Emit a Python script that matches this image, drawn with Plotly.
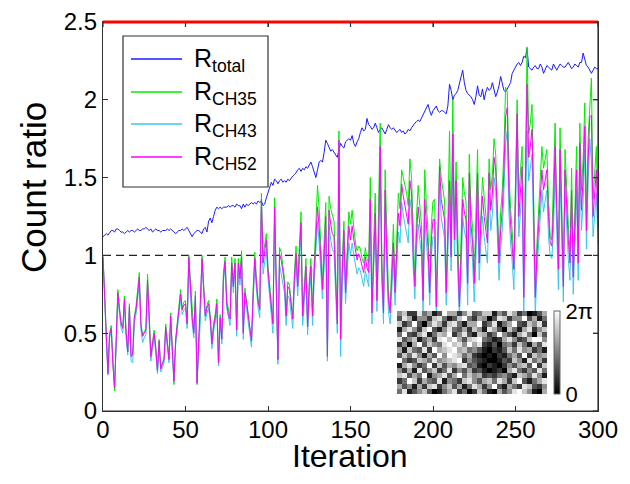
import plotly.graph_objects as go

ITERATION = list(range(0, 301))

R_TOTAL = [
    1.12, 1.13, 1.14, 1.13, 1.15, 1.16, 1.16, 1.15, 1.17, 1.17,
    1.16, 1.15, 1.15, 1.14, 1.15, 1.16, 1.15, 1.16, 1.16, 1.15,
    1.16, 1.17, 1.16, 1.16, 1.17, 1.17, 1.18, 1.17, 1.16, 1.17,
    1.15, 1.16, 1.17, 1.16, 1.16, 1.15, 1.16, 1.16, 1.16, 1.17,
    1.16, 1.17, 1.16, 1.15, 1.14, 1.15, 1.16, 1.16, 1.17, 1.16,
    1.17, 1.18, 1.16, 1.14, 1.12, 1.14, 1.15, 1.16, 1.16, 1.15,
    1.14, 1.17, 1.18, 1.15, 1.22, 1.24, 1.21, 1.25, 1.29, 1.31,
    1.30, 1.31, 1.30, 1.31, 1.31, 1.31, 1.32, 1.31, 1.32, 1.32,
    1.31, 1.33, 1.32, 1.32, 1.30, 1.33, 1.31, 1.33, 1.32, 1.33,
    1.34, 1.33, 1.34, 1.33, 1.35, 1.34, 1.35, 1.32, 1.33, 1.37,
    1.40, 1.43, 1.47, 1.45, 1.49, 1.48, 1.46, 1.48, 1.49, 1.47,
    1.48, 1.47, 1.49, 1.48, 1.50, 1.51, 1.52, 1.53, 1.55, 1.56,
    1.54, 1.56, 1.55, 1.57, 1.56, 1.58, 1.60, 1.57, 1.54, 1.50,
    1.55, 1.60, 1.61, 1.60, 1.66, 1.74, 1.72, 1.70, 1.67, 1.68,
    1.66, 1.65, 1.63, 1.68, 1.72, 1.70, 1.69, 1.73, 1.74, 1.75,
    1.74, 1.77, 1.72, 1.70, 1.73, 1.75, 1.79, 1.82, 1.80, 1.81,
    1.88, 1.84, 1.83, 1.81, 1.82, 1.85, 1.82, 1.79, 1.81, 1.82,
    1.80, 1.78, 1.81, 1.84, 1.82, 1.81, 1.82, 1.80, 1.79, 1.80,
    1.81, 1.79, 1.80, 1.78, 1.79, 1.81, 1.80, 1.82, 1.84, 1.85,
    1.86, 1.87, 1.86, 1.88, 1.90, 1.92, 1.94, 1.97, 1.93, 1.90,
    1.93, 1.95, 1.96, 1.93, 1.92, 1.93, 1.93, 1.92, 1.91, 1.96,
    2.10, 2.06, 2.00, 2.03, 2.04, 2.06, 2.10, 2.15, 2.19, 2.11,
    2.06, 2.04, 2.03, 2.02, 2.00, 1.97, 2.02, 2.09, 2.03, 2.02,
    2.07, 2.00, 2.05, 2.08, 2.06, 2.07, 2.11, 2.06, 2.02, 2.05,
    2.09, 2.15, 2.10, 2.06, 2.05, 2.07, 2.09, 2.11, 2.17, 2.19,
    2.22, 2.23, 2.24, 2.22, 2.24, 2.28, 2.27, 2.33, 2.21, 2.20,
    2.19, 2.21, 2.22, 2.20, 2.20, 2.23, 2.21, 2.17, 2.19, 2.22,
    2.21, 2.20, 2.19, 2.23, 2.21, 2.19, 2.21, 2.23, 2.22, 2.21,
    2.21, 2.23, 2.24, 2.22, 2.20, 2.21, 2.23, 2.22, 2.21, 2.24,
    2.24, 2.30, 2.25, 2.22, 2.21, 2.19, 2.17, 2.19, 2.21, 2.20,
    2.20,
]

R_CH35 = [
    1.00, 0.71, 0.47, 0.25, 0.50, 0.55, 0.31, 0.13, 0.46, 0.78,
    0.66, 0.57, 0.54, 0.74, 0.51, 0.38, 0.69, 0.36, 0.36, 0.61,
    0.67, 0.76, 0.89, 0.56, 0.49, 0.51, 0.53, 0.88, 0.56, 0.36,
    0.44, 0.52, 0.41, 0.26, 0.46, 0.28, 0.31, 0.34, 0.56, 0.46,
    0.34, 0.63, 0.41, 0.17, 0.46, 0.58, 0.70, 0.78, 0.66, 0.70,
    0.71, 0.57, 1.00, 0.82, 0.61, 0.51, 0.77, 0.17, 0.46, 0.63,
    1.00, 0.82, 0.62, 0.68, 0.71, 0.61, 0.44, 0.56, 0.62, 0.72,
    0.30, 0.62, 0.47, 0.89, 0.99, 0.71, 0.64, 0.60, 0.99, 0.83,
    0.98, 0.53, 0.98, 0.88, 1.03, 0.51, 0.79, 0.72, 0.62, 0.53,
    0.46, 0.78, 1.02, 0.85, 0.72, 0.66, 1.40, 1.00, 1.06, 1.14,
    0.93, 0.80, 0.68, 0.57, 1.37, 0.72, 0.33, 1.05, 1.02, 0.93,
    0.85, 0.62, 0.83, 0.81, 0.72, 0.60, 0.89, 1.06, 0.83, 1.04,
    1.28, 0.62, 0.83, 0.98, 0.55, 0.83, 0.98, 0.63, 0.95, 1.20,
    1.45, 1.30, 1.05, 0.82, 1.08, 1.34, 0.36, 1.38, 1.30, 1.25,
    1.22, 0.90, 0.58, 1.80, 0.48, 0.95, 1.22, 0.80, 1.08, 1.28,
    1.20, 1.29, 1.18, 1.08, 1.03, 1.06, 1.04, 0.98, 0.95, 1.05,
    0.98, 0.95, 1.50, 0.66, 1.08, 1.40, 0.75, 1.20, 1.85, 0.98,
    0.66, 1.55, 1.08, 0.75, 0.66, 0.98, 1.20, 0.80, 1.10, 1.40,
    1.30, 1.55, 1.50, 1.45, 1.40, 1.32, 1.62, 1.50, 1.10, 0.84,
    1.25, 1.45, 1.32, 1.20, 0.75, 1.55, 1.32, 1.15, 0.80, 1.20,
    1.35, 1.36, 0.70, 1.20, 1.62, 1.50, 1.42, 1.35, 0.80, 1.20,
    1.80, 1.05, 2.00, 1.20, 1.60, 1.08, 0.70, 1.10, 1.50, 1.40,
    1.35, 0.86, 1.65, 1.30, 1.18, 0.86, 1.22, 1.68, 1.00, 1.30,
    1.50, 1.38, 1.25, 1.15, 1.62, 1.42, 1.52, 1.75, 1.65, 1.30,
    1.00, 1.28, 1.42, 1.68, 2.08, 2.05, 1.55, 1.30, 1.16, 0.95,
    1.52, 2.00, 1.38, 1.52, 1.70, 0.78, 1.55, 2.34, 1.78, 1.85,
    1.97, 1.38, 0.78, 1.08, 1.32, 1.52, 1.70, 1.56, 1.62, 1.68,
    1.36, 1.12, 1.10, 1.42, 1.85, 1.30, 0.96, 1.82, 1.30, 0.84,
    1.68, 1.40, 1.20, 1.00, 1.56, 0.90, 1.32, 1.70, 1.00, 1.85,
    1.42, 1.62, 1.98, 1.26, 1.75, 2.00, 2.14, 1.36, 1.55, 1.70,
    1.25,
]

R_CH43 = [
    0.98, 0.68, 0.44, 0.23, 0.47, 0.51, 0.29, 0.15, 0.43, 0.73,
    0.62, 0.53, 0.50, 0.69, 0.47, 0.36, 0.64, 0.32, 0.31, 0.57,
    0.62, 0.71, 0.82, 0.52, 0.44, 0.47, 0.49, 0.80, 0.52, 0.32,
    0.40, 0.47, 0.37, 0.24, 0.42, 0.25, 0.28, 0.31, 0.51, 0.42,
    0.31, 0.58, 0.37, 0.19, 0.42, 0.53, 0.65, 0.72, 0.62, 0.65,
    0.66, 0.53, 0.97, 0.77, 0.57, 0.47, 0.71, 0.18, 0.42, 0.58,
    0.95, 0.77, 0.58, 0.63, 0.66, 0.57, 0.40, 0.51, 0.57, 0.66,
    0.29, 0.57, 0.43, 0.83, 0.93, 0.66, 0.59, 0.55, 0.91, 0.76,
    0.91, 0.48, 0.91, 0.81, 0.95, 0.46, 0.72, 0.66, 0.57, 0.48,
    0.41, 0.71, 0.94, 0.78, 0.66, 0.60, 1.30, 0.88, 0.96, 1.04,
    0.85, 0.73, 0.62, 0.50, 1.25, 0.65, 0.30, 0.94, 0.88, 0.84,
    0.76, 0.55, 0.74, 0.72, 0.64, 0.53, 0.79, 0.94, 0.74, 0.94,
    1.14, 0.55, 0.74, 0.86, 0.49, 0.74, 0.86, 0.55, 0.84, 1.02,
    1.22, 1.08, 0.88, 0.72, 0.92, 1.16, 0.32, 1.20, 1.10, 1.04,
    1.02, 0.78, 0.50, 1.62, 0.35, 0.82, 1.06, 0.69, 0.92, 1.08,
    1.00, 1.08, 1.00, 0.94, 0.88, 0.92, 0.90, 0.85, 0.80, 0.90,
    0.84, 0.80, 1.24, 0.56, 0.92, 1.15, 0.64, 1.00, 1.58, 0.82,
    0.56, 1.30, 0.92, 0.64, 0.56, 0.82, 0.98, 0.68, 0.92, 1.15,
    1.08, 1.34, 1.26, 1.20, 1.15, 1.08, 1.36, 1.28, 0.92, 0.72,
    1.04, 1.20, 1.10, 1.00, 0.63, 1.24, 1.08, 0.95, 0.68, 1.00,
    1.12, 1.11, 0.60, 1.00, 1.45, 1.24, 1.18, 1.11, 0.68, 1.00,
    1.35, 0.90, 1.62, 1.00, 1.35, 0.90, 0.60, 0.90, 1.24, 1.16,
    1.11, 0.68, 1.40, 1.08, 0.96, 0.70, 0.98, 1.40, 0.84, 1.08,
    1.25, 1.12, 1.03, 0.95, 1.40, 1.16, 1.27, 1.50, 1.42, 1.08,
    0.84, 1.04, 1.17, 1.42, 1.72, 1.80, 1.28, 1.08, 0.96, 0.78,
    1.27, 1.75, 1.12, 1.27, 1.44, 0.62, 1.27, 1.80, 1.48, 1.55,
    1.65, 1.12, 0.62, 0.90, 1.08, 1.27, 1.42, 1.28, 1.36, 1.42,
    1.12, 1.00, 0.98, 1.16, 1.55, 1.08, 0.78, 1.52, 1.08, 0.70,
    1.42, 1.16, 0.98, 0.84, 1.28, 0.75, 1.08, 1.42, 0.84, 1.58,
    1.16, 1.36, 1.68, 1.04, 1.46, 1.75, 1.60, 1.12, 1.26, 1.40,
    1.07,
]

R_CH52 = [
    0.99, 0.70, 0.46, 0.24, 0.49, 0.53, 0.30, 0.15, 0.45, 0.76,
    0.65, 0.56, 0.53, 0.72, 0.50, 0.38, 0.67, 0.35, 0.36, 0.60,
    0.65, 0.74, 0.86, 0.55, 0.48, 0.50, 0.52, 0.84, 0.55, 0.35,
    0.43, 0.50, 0.40, 0.26, 0.45, 0.27, 0.30, 0.33, 0.54, 0.45,
    0.33, 0.61, 0.40, 0.19, 0.45, 0.56, 0.68, 0.75, 0.65, 0.68,
    0.69, 0.56, 0.99, 0.80, 0.60, 0.50, 0.74, 0.18, 0.45, 0.61,
    0.98, 0.80, 0.61, 0.66, 0.69, 0.60, 0.43, 0.54, 0.60, 0.69,
    0.31, 0.60, 0.46, 0.86, 0.96, 0.69, 0.62, 0.59, 0.95, 0.80,
    0.95, 0.52, 0.95, 0.85, 0.99, 0.50, 0.76, 0.70, 0.61, 0.52,
    0.45, 0.75, 0.98, 0.82, 0.70, 0.65, 1.36, 0.95, 1.02, 1.10,
    0.90, 0.78, 0.67, 0.56, 1.31, 0.70, 0.33, 1.01, 0.97, 0.90,
    0.82, 0.61, 0.80, 0.78, 0.70, 0.59, 0.85, 1.01, 0.80, 1.00,
    1.21, 0.61, 0.80, 0.93, 0.54, 0.80, 0.93, 0.61, 0.90, 1.10,
    1.31, 1.18, 0.95, 0.78, 1.00, 1.25, 0.35, 1.29, 1.20, 1.14,
    1.12, 0.85, 0.56, 1.74, 0.46, 0.90, 1.16, 0.76, 1.00, 1.19,
    1.10, 1.19, 1.10, 1.02, 0.97, 1.01, 0.98, 0.93, 0.89, 0.99,
    0.92, 0.89, 1.36, 0.63, 1.00, 1.27, 0.71, 1.10, 1.70, 0.90,
    0.63, 1.42, 1.00, 0.71, 0.63, 0.90, 1.08, 0.76, 1.00, 1.27,
    1.19, 1.46, 1.38, 1.31, 1.27, 1.20, 1.48, 1.40, 1.00, 0.80,
    1.14, 1.31, 1.20, 1.10, 0.71, 1.36, 1.20, 1.05, 0.76, 1.10,
    1.23, 1.23, 0.67, 1.10, 1.57, 1.36, 1.30, 1.23, 0.76, 1.10,
    1.48, 0.99, 1.78, 1.10, 1.48, 1.00, 0.67, 1.00, 1.36, 1.28,
    1.23, 0.82, 1.53, 1.20, 1.08, 0.82, 1.10, 1.53, 0.95, 1.20,
    1.38, 1.25, 1.15, 1.08, 1.53, 1.29, 1.40, 1.63, 1.55, 1.20,
    0.95, 1.16, 1.30, 1.55, 1.89, 1.95, 1.42, 1.20, 1.08, 0.91,
    1.40, 1.91, 1.25, 1.40, 1.57, 0.73, 1.40, 2.10, 1.63, 1.70,
    1.81, 1.25, 0.73, 1.00, 1.21, 1.40, 1.55, 1.42, 1.50, 1.55,
    1.25, 1.08, 1.06, 1.30, 1.70, 1.20, 0.91, 1.68, 1.20, 0.80,
    1.55, 1.29, 1.10, 0.95, 1.42, 0.86, 1.20, 1.55, 0.95, 1.72,
    1.29, 1.50, 1.83, 1.16, 1.60, 1.89, 1.90, 1.25, 1.40, 1.55,
    1.16,
]

SERIES_NAMES = ["R<sub>total</sub>", "R<sub>CH35</sub>", "R<sub>CH43</sub>", "R<sub>CH52</sub>"]
SERIES_COLORS = ["#1a1aff", "#00ee00", "#38c8f0", "#ff00ff"]

REF_LEVEL = 1.0

X_RANGE = [0, 300]
Y_RANGE = [0, 2.5]
X_TICKS = [0, 50, 100, 150, 200, 250, 300]
Y_TICKS = [0, 0.5, 1, 1.5, 2, 2.5]
Y_TICK_TEXT = ["0", "0.5", "1", "1.5", "2", "2.5"]
X_TITLE = "Iteration"
Y_TITLE = "Count ratio"

# inset: phase mask (grey levels 0..9 -> 0..2pi), rows top to bottom
PHASE_LEVELS = [
    [5, 7, 2, 2, 8, 4, 6, 1, 3, 9, 6, 6, 2, 5, 8, 3, 4, 7, 7, 1, 5, 3, 8, 6, 2, 4, 0, 1, 3, 6],
    [3, 8, 6, 1, 5, 5, 2, 7, 8, 4, 1, 3, 7, 9, 4, 2, 6, 5, 0, 3, 8, 7, 2, 5, 5, 9, 3, 6, 1, 4],
    [7, 2, 4, 9, 3, 0, 5, 8, 6, 2, 7, 8, 4, 1, 6, 6, 9, 2, 4, 8, 1, 4, 6, 9, 3, 2, 7, 5, 8, 2],
    [1, 6, 8, 5, 2, 7, 9, 3, 1, 5, 8, 4, 3, 6, 2, 7, 5, 1, 8, 6, 3, 0, 7, 4, 1, 6, 8, 2, 5, 7],
    [4, 9, 3, 2, 6, 8, 1, 4, 7, 6, 9, 2, 5, 8, 3, 1, 7, 6, 2, 4, 9, 5, 3, 1, 6, 8, 4, 0, 7, 3],
    [8, 3, 5, 7, 1, 4, 6, 2, 8, 9, 7, 9, 6, 3, 7, 8, 9, 4, 3, 1, 2, 6, 8, 5, 2, 3, 7, 9, 9, 5],
    [2, 5, 0, 6, 9, 3, 7, 5, 4, 8, 9, 7, 8, 5, 9, 6, 8, 2, 1, 3, 0, 4, 5, 2, 7, 4, 1, 6, 3, 8],
    [6, 1, 7, 4, 3, 8, 2, 9, 6, 7, 8, 9, 6, 7, 4, 5, 3, 1, 0, 2, 1, 3, 7, 4, 8, 5, 6, 2, 4, 1],
    [3, 7, 4, 8, 5, 1, 6, 3, 9, 5, 9, 8, 7, 4, 6, 2, 1, 0, 1, 0, 2, 1, 4, 6, 3, 9, 2, 7, 5, 6],
    [9, 4, 2, 3, 7, 6, 4, 8, 5, 6, 7, 8, 9, 2, 5, 3, 2, 1, 0, 0, 1, 3, 2, 7, 5, 1, 8, 4, 6, 2],
    [1, 6, 8, 5, 2, 4, 9, 2, 7, 3, 6, 5, 7, 8, 3, 4, 1, 0, 2, 1, 0, 2, 5, 3, 6, 7, 3, 9, 2, 7],
    [5, 2, 6, 1, 8, 3, 5, 7, 2, 4, 8, 2, 5, 3, 6, 2, 3, 1, 0, 1, 2, 0, 6, 8, 4, 2, 5, 3, 8, 4],
    [7, 8, 3, 6, 4, 9, 1, 5, 6, 8, 3, 6, 9, 4, 7, 5, 6, 2, 3, 2, 4, 5, 3, 1, 7, 6, 4, 8, 5, 1],
    [2, 4, 9, 7, 2, 6, 4, 3, 8, 1, 5, 4, 2, 7, 8, 5, 3, 6, 7, 4, 8, 6, 2, 7, 9, 3, 1, 4, 6, 8],
    [6, 3, 5, 1, 6, 2, 7, 8, 2, 5, 7, 3, 6, 1, 4, 8, 6, 2, 5, 9, 3, 1, 6, 4, 2, 8, 7, 3, 2, 5],
    [4, 8, 1, 3, 5, 7, 3, 0, 1, 4, 6, 8, 2, 4, 0, 2, 7, 4, 1, 0, 6, 3, 5, 8, 9, 7, 5, 1, 0, 6],
]
PHASE_MAX_LEVEL = 9
PHASE_TICK_TEXT = ["0", "2π"]

# ---------------------------------------------------------------
BODY = 8
W, H = 630 - 2 * BODY, 484 - 2 * BODY
X0_PIX, X1_PIX, Y0_PIX, Y1_PIX = 103, 598, 22, 411   # plot frame in window pixels
ML, MR = X0_PIX - BODY, W - (X1_PIX - BODY)
MT, MB = Y0_PIX - BODY, H - (Y1_PIX - BODY)
PW, PH = X1_PIX - X0_PIX, Y1_PIX - Y0_PIX


def px(x):
    return (x - X0_PIX) / PW


def py(y):
    return (Y1_PIX - y) / PH


FONT = "Liberation Sans, Arial, Helvetica, sans-serif"
FRAME = "#303030"
TICKLEN = 5

fig = go.Figure()
for name, ys, col in zip(SERIES_NAMES, [R_TOTAL, R_CH35, R_CH43, R_CH52], SERIES_COLORS):
    fig.add_trace(go.Scatter(x=ITERATION, y=ys, mode="lines", name=name,
                             line=dict(color=col, width=1), showlegend=False))

fig.add_hline(y=REF_LEVEL, line=dict(color="#222222", width=1.2, dash="8px,5px"), layer="below")

fig.add_trace(go.Heatmap(
    z=PHASE_LEVELS, xaxis="x2", yaxis="y2",
    colorscale=[[0, "#000000"], [1, "#ffffff"]], zmin=0, zmax=PHASE_MAX_LEVEL,
    colorbar=dict(
        x=px(554), xanchor="left", y=py(352.5), yanchor="middle",
        lenmode="pixels", len=83, thicknessmode="pixels", thickness=6,
        xpad=0, ypad=0, outlinewidth=1, outlinecolor="#666666",
        tickmode="array", tickvals=[0, PHASE_MAX_LEVEL], ticktext=PHASE_TICK_TEXT,
        ticks="", tickfont=dict(size=22, family=FONT, color="black"),
    ),
))

axis_common = dict(showgrid=False, zeroline=False, showline=True, mirror="ticks",
                   linecolor=FRAME, linewidth=1.2, ticks="inside", ticklen=TICKLEN,
                   tickcolor=FRAME, automargin=False, ticklabeloverflow="allow",
                   tickfont=dict(size=24, family=FONT, color="black"))

fig.update_layout(
    width=W, height=H,
    margin=dict(l=ML, r=MR, t=MT, b=MB, pad=0, autoexpand=False),
    paper_bgcolor="white", plot_bgcolor="white",
    font=dict(family=FONT, color="black"),
    showlegend=False,
    xaxis=dict(range=X_RANGE, tickmode="array", tickvals=X_TICKS, domain=[0, 1],
               ticklabelstandoff=-3, **axis_common),
    yaxis=dict(range=Y_RANGE, tickmode="array", tickvals=Y_TICKS, ticktext=Y_TICK_TEXT,
               domain=[0, 1], **axis_common),
    xaxis2=dict(domain=[px(397), px(547)], anchor="y2", visible=False),
    yaxis2=dict(domain=[py(394), py(311)], anchor="x2", visible=False, autorange="reversed"),
)

# frame: drawn as four separate edges, the top one in a test colour to locate it
fig.add_shape(type="line", xref="paper", yref="paper", x0=0, x1=1, y0=1, y1=1,
              line=dict(color="red", width=3), layer="above")
fig.add_shape(type="line", xref="paper", yref="paper", x0=0, x1=1, y0=0, y1=0,
              line=dict(color=FRAME, width=1.2), layer="above")
fig.add_shape(type="line", xref="paper", yref="paper", x0=1, x1=1, y0=0, y1=1,
              line=dict(color=FRAME, width=1.2), layer="above")
for t in X_TICKS:
    fig.add_shape(type="line", xref="x", yref="paper", x0=t, x1=t,
                  y0=1, y1=1 - TICKLEN / PH, line=dict(color=FRAME, width=1.2), layer="above")
for t in Y_TICKS:
    fig.add_shape(type="line", xref="paper", yref="y", x0=1, x1=1 - TICKLEN / PW,
                  y0=t, y1=t, line=dict(color=FRAME, width=1.2), layer="above")

fig.add_annotation(xref="paper", yref="paper", x=px(350), y=py(456),
                   xanchor="center", yanchor="middle", showarrow=False,
                   text=X_TITLE, font=dict(size=32, family=FONT, color="black"))
fig.add_annotation(xref="paper", yref="paper", x=px(33), y=py(188),
                   xanchor="center", yanchor="middle", showarrow=False, textangle=-90,
                   text=Y_TITLE, font=dict(size=35, family=FONT, color="black"))

fig.add_shape(type="rect", xref="paper", yref="paper",
              x0=px(123), x1=px(268), y0=py(187), y1=py(36),
              line=dict(color=FRAME, width=1.2), fillcolor="white", layer="above")
legend_rows = [59, 92, 124, 157]
for name, col, yy in zip(SERIES_NAMES, SERIES_COLORS, legend_rows):
    fig.add_shape(type="line", xref="paper", yref="paper",
                  x0=px(131), x1=px(182), y0=py(yy), y1=py(yy),
                  line=dict(color=col, width=1.6), layer="above")
    fig.add_annotation(xref="paper", yref="paper", x=px(192), y=py(yy + 1),
                       xanchor="left", yanchor="middle", showarrow=False,
                       text=name, font=dict(size=25, family=FONT, color="black"))

fig.write_html("out.html")
